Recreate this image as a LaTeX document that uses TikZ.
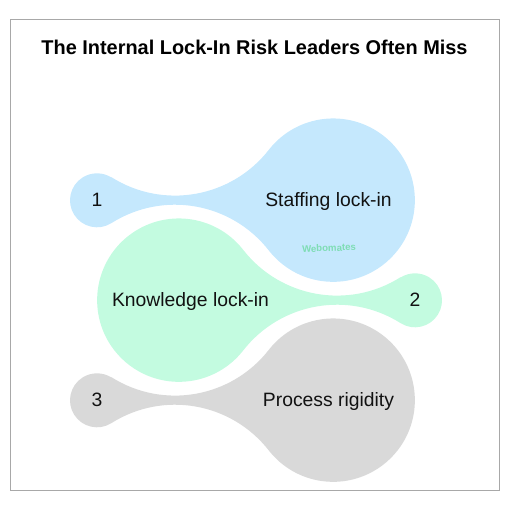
\documentclass[tikz,border=0pt]{standalone}
\usepackage{fontspec}
\setmainfont{Liberation Sans}
\setsansfont{Liberation Sans}
\usepackage{xcolor}
\definecolor{inktext}{HTML}{111111}
\definecolor{staffblue}{HTML}{C5E8FD}
\definecolor{knowgreen}{HTML}{C3FBE0}
\definecolor{procgray}{HTML}{D9D9D9}
\definecolor{framegray}{HTML}{A8A8A8}
\definecolor{markgreen}{HTML}{7EDDB4}
\usetikzlibrary{positioning, calc}

\begin{document}
\begin{tikzpicture}[
    x=0.03cm, y=0.03cm,
    font=\sffamily\color{inktext},
    blobshape/.pic={
        \fill[pic actions] (57.7:27)
            arc[start angle=237.7, end angle=322, radius=119]
            arc[start angle=142, end angle=-142, radius=81.7]
            arc[start angle=38, end angle=122.3, radius=119]
            arc[start angle=-57.7, end angle=-302.3, radius=27] -- cycle;
    },
    steplabel/.style={
        font=\sffamily\fontsize{16.5}{19}\selectfont, text=inktext,
        anchor=base, inner sep=0pt,
    },
    figtitle/.style={
        font=\sffamily\bfseries\fontsize{17}{20}\selectfont, text=black,
        anchor=base, inner sep=0pt,
    },
    watermark/.style={
        font=\sffamily\bfseries\fontsize{8.2}{10}\selectfont, text=markgreen,
        inner sep=0pt, rotate=2,
    },
]
\useasboundingbox (0,0) rectangle (512,512);

% -- Frame and title --
\draw[framegray, line width=0.6pt] (10.5,21.3) rectangle (499,493);
\node[figtitle] (title) at (254.5,457) {The Internal Lock-In Risk Leaders Often Miss};

% -- Blob 1: Staffing --
\pic[fill=staffblue] at (97,312) {blobshape};
\node[steplabel] (n1) at (97,305.5) {1};
\node[steplabel] (t1) at (328.5,305.5) {Staffing lock-in};
\node[watermark] (wm) at (329,264) {Webomates};

% -- Blob 2: Knowledge --
\pic[fill=knowgreen, xscale=-1] at (415,212) {blobshape};
\node[steplabel] (n2) at (415,205.5) {2};
\node[steplabel] (t2) at (190.5,205.5) {Knowledge lock-in};

% -- Blob 3: Process --
\pic[fill=procgray] at (97,112) {blobshape};
\node[steplabel] (n3) at (97,105.5) {3};
\node[steplabel] (t3) at (328.5,105.5) {Process rigidity};

\end{tikzpicture}
\end{document}
